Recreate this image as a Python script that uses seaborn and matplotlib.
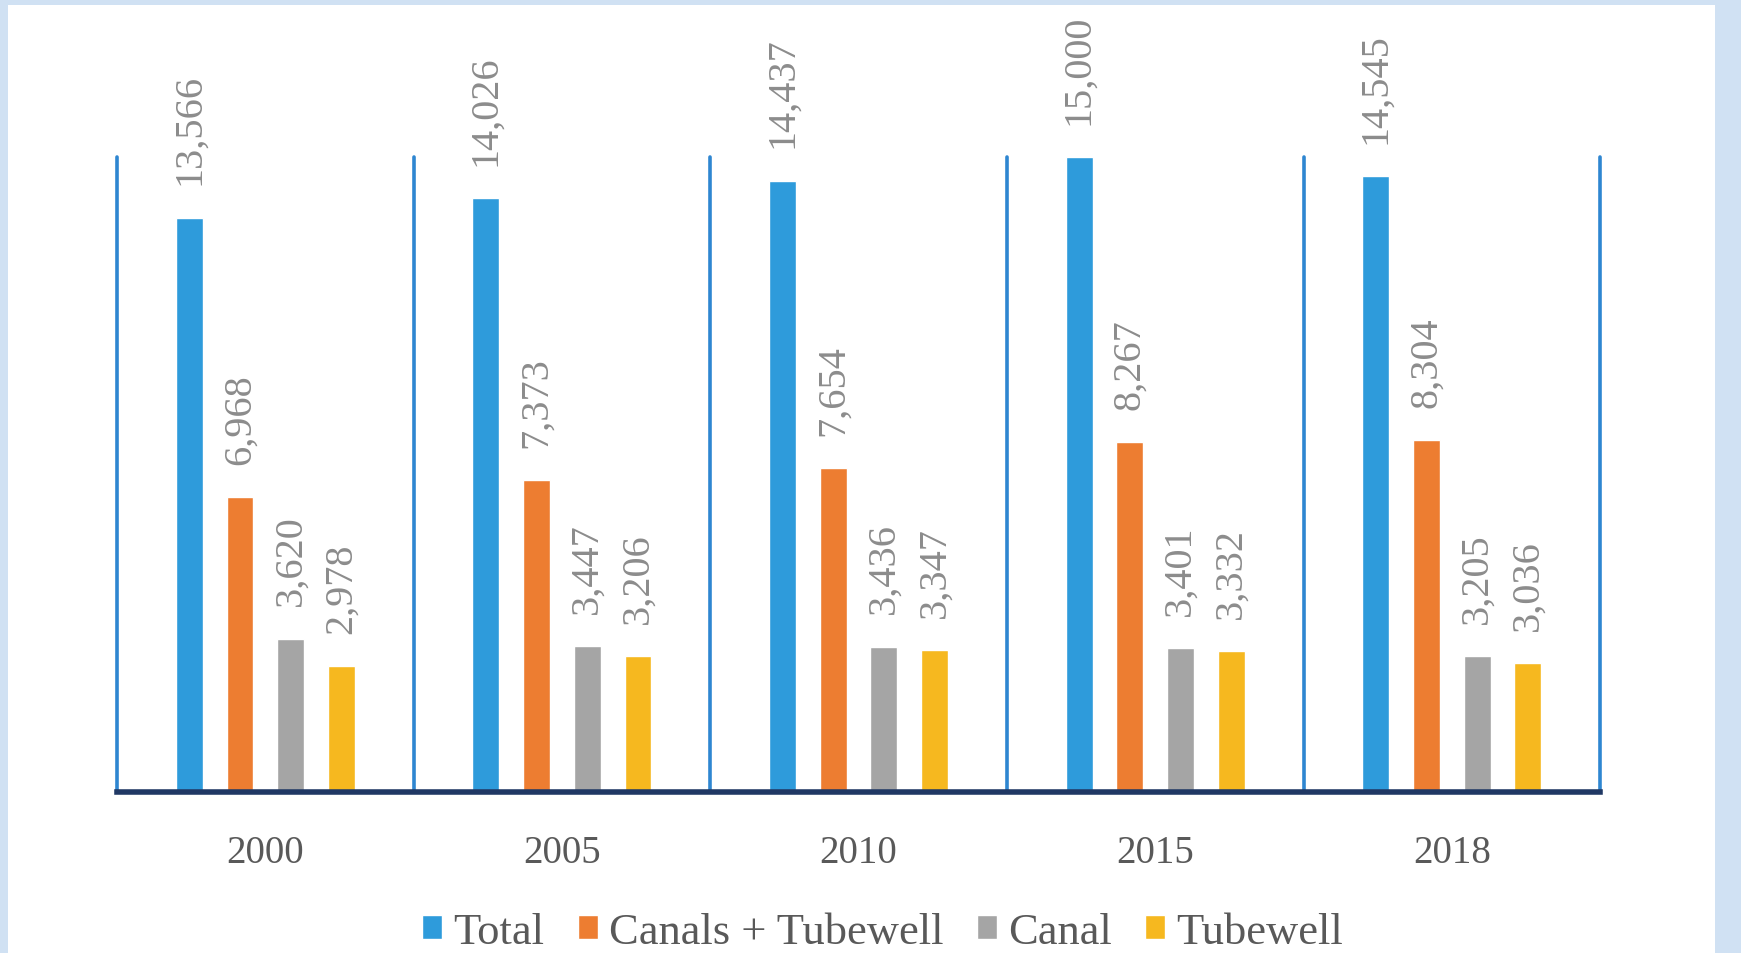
"""
Grouped bars: irrigated area by source, 2000-2018
"""

import matplotlib.pyplot as plt
import matplotlib.patches as mpatches
import numpy as np
import pandas as pd
import seaborn as sns

years = ["2000", "2005", "2010", "2015", "2018"]
series_names = ["Total", "Canals + Tubewell", "Canal", "Tubewell"]
total = [13566, 14026, 14437, 15000, 14545]
canals_tubewell = [6968, 7373, 7654, 8267, 8304]
canal = [3620, 3447, 3436, 3401, 3205]
tubewell = [2978, 3206, 3347, 3332, 3036]

colors = ["#2E9BDB", "#ED7D31", "#A5A5A5", "#F6B81F"]


def main() -> None:
    sns.set_style("white")
    plt.rcParams["font.family"] = ["Liberation Serif", "DejaVu Serif"]

    df = pd.DataFrame(
        {
            "Year": years * len(series_names),
            "Source": [n for n in series_names for _ in years],
            "Area": total + canals_tubewell + canal + tubewell,
        }
    )

    fig = plt.figure(figsize=(17.41, 9.54), dpi=100, facecolor="#D0E1F3")
    # white card inside the light blue frame
    fig.add_artist(
        mpatches.Rectangle(
            (0.0046, 0), 0.9805, 0.9937,
            transform=fig.transFigure, facecolor="white", edgecolor="none", zorder=-10,
        )
    )
    ax = fig.add_axes([0.0672, 0.1688, 0.8519, 0.6656])
    ax.patch.set_alpha(0)

    sns.barplot(
        data=df, x="Year", y="Area", hue="Source", hue_order=series_names,
        palette=colors, width=0.684, gap=0.47, saturation=1, ax=ax,
    )

    for cont in ax.containers:
        ax.bar_label(
            cont, labels=[f"{v:,.0f}" for v in cont.datavalues],
            rotation=90, padding=24, fontsize=29, color="#8C8C8C",
            annotation_clip=False,
        )

    # category separators
    for x in np.arange(-0.5, len(years)):
        ax.axvline(x, color="#2E86D1", lw=2.6, zorder=0.5, clip_on=False)

    ax.set_xlim(-0.5, len(years) - 0.5)
    ax.set_ylim(0, 15000)
    for side in ["left", "right", "top"]:
        ax.spines[side].set_visible(False)
    ax.spines["bottom"].set_color("#203864")
    ax.spines["bottom"].set_linewidth(4)
    ax.set_yticks([])
    ax.tick_params(axis="x", length=0, pad=30, labelsize=28, labelcolor="#595959")
    ax.set_xlabel("")
    ax.set_ylabel("")

    handles, labels = ax.get_legend_handles_labels()
    ax.legend_.remove()
    fig.legend(
        handles, labels, loc="center", bbox_to_anchor=(0.507, 0.022), ncol=4,
        frameon=False, fontsize=32, handlelength=0.45, handleheight=0.45,
        handletextpad=0.25, columnspacing=0.75, labelcolor="#595959",
    )

    fig.savefig("out.png", dpi=100, facecolor=fig.get_facecolor())


if __name__ == "__main__":
    main()
